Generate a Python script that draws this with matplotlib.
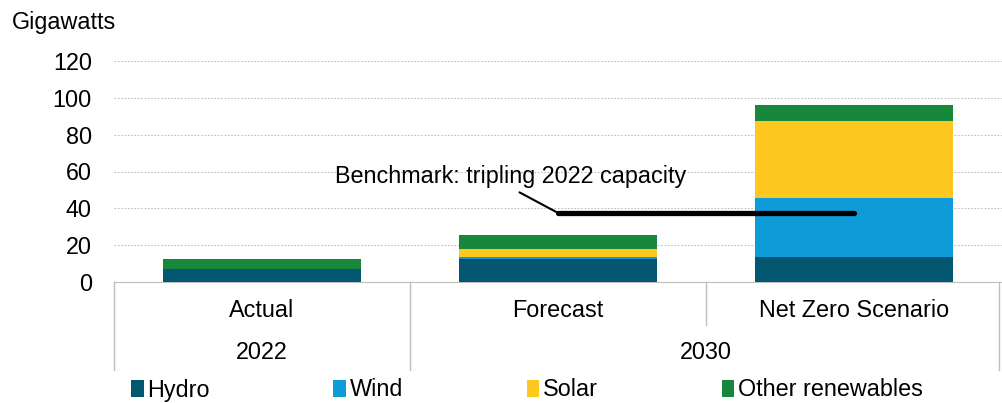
#renewable capacity: actual 2022 vs 2030 forecast and net zero scenario
import numpy as np
import matplotlib
matplotlib.use("Agg")
import matplotlib.pyplot as plt

categories = ['Actual', 'Forecast', 'Net Zero Scenario']
years = ['2022', '2030']
hydro = [7.0, 12.5, 13.8]
wind = [0.2, 1.1, 31.8]
solar = [0.1, 4.3, 41.6]
other = [5.2, 7.6, 8.7]
series_names = ['Hydro', 'Wind', 'Solar', 'Other renewables']
yticks = [0, 20, 40, 60, 80, 100, 120]


def main():
    plt.rcParams['font.family'] = ['Liberation Sans', 'DejaVu Sans']
    fs = 16.8

    fig = plt.figure(figsize=(10.03, 4.03), dpi=100)
    ax = fig.add_axes([114/1003, 121/403, 888/1003, 221/403])

    colors = ['#02566F', '#0E9CD9', '#FEC820', '#17873B']
    x = np.arange(len(categories))
    bottom = np.zeros(len(categories))
    handles = []
    for vals, c in zip([hydro, wind, solar, other], colors):
        b = ax.bar(x, vals, width=0.67, bottom=bottom, color=c, zorder=3)
        handles.append(b)
        bottom = bottom + np.array(vals)

    # benchmark = three times the 2022 total
    bench = 3 * bottom[0]
    ax.plot([1, 2], [bench, bench], color='black', lw=3.8,
            solid_capstyle='round', zorder=4)
    ax.annotate('Benchmark: tripling 2022 capacity', xy=(1.0, bench),
                xytext=(0.84, 57.5), ha='center', va='center', fontsize=fs,
                arrowprops=dict(arrowstyle='-', lw=1.5, color='black',
                                relpos=(0.5, 0), shrinkA=3, shrinkB=0))

    ax.set_xlim(-0.5, 2.5)
    ax.set_ylim(0, 120)
    ax.set_yticks(yticks)
    ax.tick_params(axis='y', length=0, pad=16, labelsize=fs)
    ax.set_xticks([])
    ax.grid(axis='y', ls=(0, (1.5, 1.5)), color='#BFBFBF', lw=0.8, zorder=0)
    for s in ['top', 'right', 'left']:
        ax.spines[s].set_visible(False)
    ax.spines['bottom'].set_color('#BFBFBF')

    # two-level category axis
    tr = ax.get_xaxis_transform()
    for i, c in enumerate(categories):
        ax.text(i, -0.127, c, transform=tr, ha='center', va='center', fontsize=fs)
    ax.text(0, -0.317, years[0], transform=tr, ha='center', va='center', fontsize=fs)
    ax.text(1.5, -0.317, years[1], transform=tr, ha='center', va='center', fontsize=fs)
    for xs, y0 in [(-0.5, -0.398), (0.5, -0.398), (1.5, -0.195), (2.49, -0.398)]:
        ax.plot([xs, xs], [0, y0], transform=tr, color='#BFBFBF', lw=1,
                clip_on=False)

    fig.text(12/1003, 1 - 22/403, 'Gigawatts', fontsize=fs, va='center')

    fig.legend([h[0] for h in handles], series_names, ncol=4,
               loc='center left', bbox_to_anchor=(119/1003, 1 - 390/403),
               frameon=False, fontsize=fs, handlelength=0.55, handleheight=0.7,
               handletextpad=0.15, columnspacing=5.3, borderpad=0)

    fig.savefig('out.png', dpi=100)


if __name__ == "__main__":
    main()
